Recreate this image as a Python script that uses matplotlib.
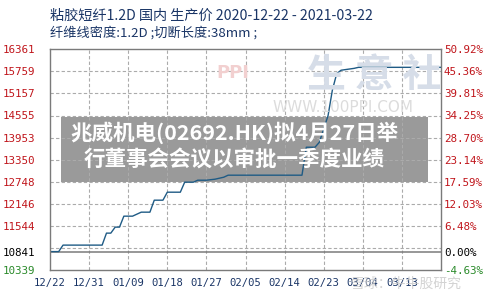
import pandas as pd
import numpy as np
import matplotlib
matplotlib.use('Agg')
import matplotlib.pyplot as plt
import matplotlib.dates as mdates
from matplotlib.patches import Rectangle

plt.rcParams['font.family'] = ['Noto Sans CJK SC', 'DejaVu Sans']

# -------------------------------------------
# Data
# -------------------------------------------
dates = ['2020-12-22', '2020-12-24', '2020-12-25', '2021-01-03', '2021-01-04',
         '2021-01-05', '2021-01-06', '2021-01-07', '2021-01-08', '2021-01-10',
         '2021-01-12', '2021-01-14', '2021-01-15', '2021-01-17', '2021-01-18',
         '2021-01-21', '2021-01-22', '2021-01-24', '2021-01-25', '2021-01-27',
         '2021-01-29', '2021-01-31', '2021-02-01', '2021-02-18', '2021-02-19',
         '2021-02-21', '2021-02-22', '2021-02-24', '2021-02-25', '2021-02-26',
         '2021-02-27', '2021-03-02', '2021-03-03', '2021-03-22']
prices = [10841, 10841, 11018, 11018, 11345, 11345, 11509, 11509, 11808, 11808,
          11917, 11917, 12244, 12244, 12462, 12462, 12735, 12735, 12789, 12789,
          12817, 12871, 12926, 12926, 13689, 13689, 13825, 14550, 15250, 15700,
          15790, 15841, 15869, 15869]

base_price = 10841
y_ticks = [10339, 10841, 11544, 12146, 12748, 13350, 13953, 14555, 15157, 15759, 16361]
left_labels = ['10339', '10841', '11544', '12146', '12748', '13350',
               '13953', '14555', '15157', '15759', '16361']
right_labels = ['-4.63%', '0.00%', '6.48%', '12.03%', '17.59%', '23.14%',
                '28.70%', '34.25%', '39.81%', '45.36%', '50.92%']
x_ticks = ['2020-12-22', '2020-12-31', '2021-01-09', '2021-01-18', '2021-01-27',
           '2021-02-05', '2021-02-14', '2021-02-23', '2021-03-04', '2021-03-13']
x_start, x_end = '2020-12-22', '2021-03-22'

title = '粘胶短纤1.2D 国内 生产价 2020-12-22 - 2021-03-22'
subtitle = '纤维线密度:1.2D ;切断长度:38mm ;'
news_lines = ['兆威机电(02692.HK)拟4月27日举', '行董事会会议以审批一季度业绩']

RED = '#c0151b'
GREEN = '#2a8a2a'
NAVY = '#1a3566'


def label_color(v):
    if v > base_price:
        return RED
    if v < base_price:
        return GREEN
    return 'black'


# -------------------------------------------
# Figure
# -------------------------------------------
fig = plt.figure(figsize=(4.9, 3.0), dpi=100)
ax = fig.add_axes([50 / 490, 30 / 300, 391 / 490, 220.7 / 300])

x = pd.to_datetime(dates)
ax.set_xlim(pd.Timestamp(x_start), pd.Timestamp(x_end))
ax.set_ylim(y_ticks[0], y_ticks[-1])

# dashed horizontal grid evenly spaced, solid base line at the reference price
for g in np.linspace(y_ticks[0], y_ticks[-1], 11)[1:-1]:
    ax.axhline(g, color='#ababab', lw=0.8, ls=(0, (3, 2)), zorder=1.6)
ax.axhline(base_price, color='#7a7a7a', lw=1.1, zorder=1.7)
for d in x_ticks[1:]:
    ax.axvline(pd.Timestamp(d), color='#ababab', lw=0.8, ls=(0, (3, 2)), zorder=1.6)

# watermark
fig.text(0.763, 0.75, '生 意 社', fontsize=28, color='#d6dde8', ha='center',
         va='center', fontweight='bold', zorder=0.5)
fig.text(0.70, 0.64, 'WWW.100PPI.COM', fontsize=11, color='#dcdcdc', ha='center',
         va='center', family='DejaVu Sans', zorder=0.5)
fig.text(0.475, 0.755, 'PPI', fontsize=13, color='#f2d0d0', ha='center',
         va='center', fontweight='bold', family='DejaVu Sans', zorder=0.5)

# news overlay box
ax.add_patch(Rectangle((61 / 490, 1 - 182 / 300), 367 / 490, 65 / 300,
                       transform=fig.transFigure, facecolor='#8a8a8a',
                       alpha=0.86, edgecolor='none', zorder=1.5, clip_on=False))

ax.plot(x, prices, color='#1f5b85', lw=1.0, zorder=2)

for s in ax.spines.values():
    s.set_color('#7a7a7a')
    s.set_linewidth(1.0)

ax.set_yticks(y_ticks)
ax.set_yticklabels(left_labels, family='DejaVu Sans Mono', fontsize=7.8)
for lbl, v in zip(ax.get_yticklabels(), y_ticks):
    lbl.set_color(label_color(v))

ax.set_xticks(pd.to_datetime(x_ticks))
ax.xaxis.set_major_formatter(mdates.DateFormatter('%m/%d'))
for lbl in ax.get_xticklabels():
    lbl.set_family('DejaVu Sans Mono')
    lbl.set_fontsize(7.6)
    lbl.set_color(NAVY)
ax.tick_params(length=0, pad=6)
ax.tick_params(axis='y', pad=11)

ax2 = ax.twinx()
ax2.set_ylim(ax.get_ylim())
ax2.set_yticks(y_ticks)
ax2.set_yticklabels(right_labels, family='DejaVu Sans Mono', fontsize=7.8)
for lbl, v in zip(ax2.get_yticklabels(), y_ticks):
    lbl.set_color(label_color(v))
ax2.tick_params(length=0, pad=2)
for s in ax2.spines.values():
    s.set_visible(False)

fig.text(50 / 490, 1 - 16 / 300, title, fontsize=10.2, color=NAVY, va='center')
fig.text(50 / 490, 1 - 33 / 300, subtitle, fontsize=9.5, color=NAVY, va='center')

for i, line in enumerate(news_lines):
    fig.text(234 / 490, 1 - (133 + 27 * i) / 300, line, fontsize=15.5,
             fontweight='bold', color='white', ha='center', va='center', zorder=5)

fig.text(0.83, 1 - 284 / 300, '雪球：牛牛股研究', fontsize=10, color='#c8c8c8',
         ha='center', va='center', alpha=0.8, zorder=5)

plt.savefig('out.png', dpi=100)
